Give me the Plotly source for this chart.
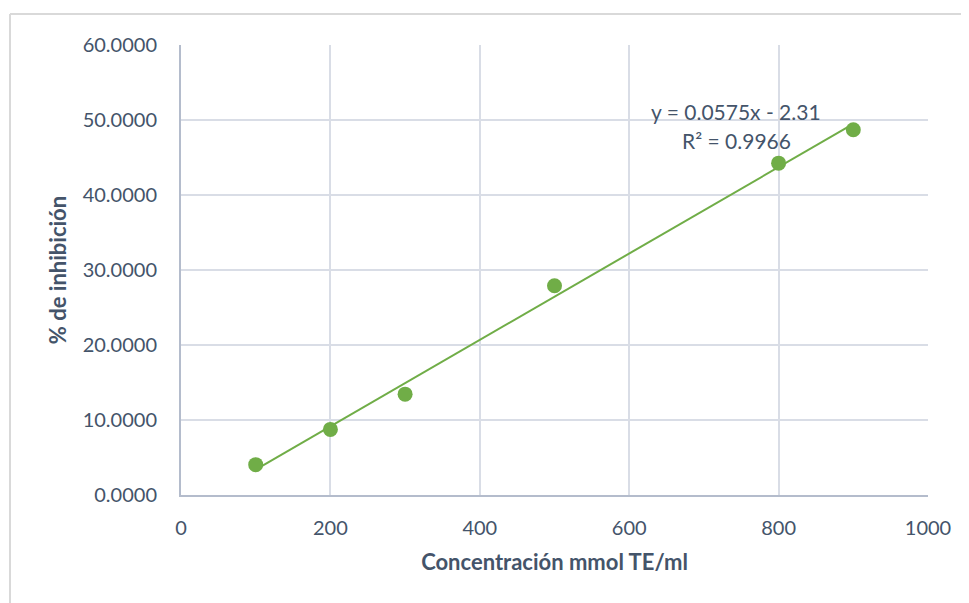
import numpy as np
import plotly.graph_objects as go

concentration = [100, 200, 300, 500, 800, 900]
inhibition = [4.05, 8.75, 13.45, 27.9, 44.25, 48.7]
x_ticks = [0, 200, 400, 600, 800, 1000]
y_ticks = [0, 10, 20, 30, 40, 50, 60]
equation_text = "y = 0.0575x - 2.31"
r2_text = "R² = 0.9966"

slope, intercept = np.polyfit(concentration, inhibition, 1)
trend_x = [min(concentration), max(concentration)]
trend_y = [slope * v + intercept for v in trend_x]

green = "#70ad47"
text_col = "#44546a"
grid_col = "#d9dde6"
axis_col = "#b4bccc"
font_fam = "Lato, sans-serif"

fig = go.Figure()
fig.add_trace(go.Scatter(x=trend_x, y=trend_y, mode="lines",
                         line=dict(color=green, width=2), showlegend=False, hoverinfo="skip"))
fig.add_trace(go.Scatter(x=concentration, y=inhibition, mode="markers",
                         marker=dict(color=green, size=15, line=dict(width=0)), showlegend=False))

fig.update_xaxes(range=[0, 1000], tickvals=x_ticks, ticktext=[str(v) for v in x_ticks],
                 showgrid=True, gridcolor=grid_col, gridwidth=1.5,
                 showline=True, linecolor=axis_col, linewidth=2, zeroline=False,
                 ticks="outside", ticklen=14, tickcolor="rgba(0,0,0,0)",
                 tickfont=dict(family=font_fam, size=20, color=text_col),
                 title=dict(text="<b>Concentración mmol TE/ml</b>", standoff=17,
                            font=dict(family=font_fam, size=22, color=text_col)))
fig.update_yaxes(range=[0, 60], tickvals=y_ticks, ticktext=[f"{v:.4f}" for v in y_ticks],
                 showgrid=True, gridcolor=grid_col, gridwidth=1.5,
                 showline=True, linecolor=axis_col, linewidth=2, zeroline=False,
                 ticks="outside", ticklen=18, tickcolor="rgba(0,0,0,0)",
                 tickfont=dict(family=font_fam, size=20, color=text_col),
                 title=dict(text="<b>% de inhibición</b>", standoff=10,
                            font=dict(family=font_fam, size=22, color=text_col)))

fig.add_annotation(x=743, y=51.1, xref="x", yref="y", text=equation_text,
                   showarrow=False, xanchor="center", yanchor="middle",
                   font=dict(family=font_fam, size=21, color=text_col))
fig.add_annotation(x=743, y=47.3, xref="x", yref="y", text=r2_text,
                   showarrow=False, xanchor="center", yanchor="middle",
                   font=dict(family=font_fam, size=21, color=text_col))

# outer chart-area border (left and top edges visible)
fig.add_shape(type="line", xref="paper", yref="paper", x0=(10 - 181) / 747, x1=(969 - 181) / 747 + 0.01,
              y0=(495 - 14) / 450, y1=(495 - 14) / 450, line=dict(color="#d9d9d9", width=2))
fig.add_shape(type="line", xref="paper", yref="paper", x0=(10 - 181) / 747, x1=(10 - 181) / 747,
              y0=(495 - 14) / 450, y1=(495 - 610) / 450, line=dict(color="#d9d9d9", width=2))

fig.update_layout(width=961, height=595,
                  margin=dict(l=173, r=41, t=37, b=108),
                  paper_bgcolor="white", plot_bgcolor="white")

fig.write_html("out.html")
